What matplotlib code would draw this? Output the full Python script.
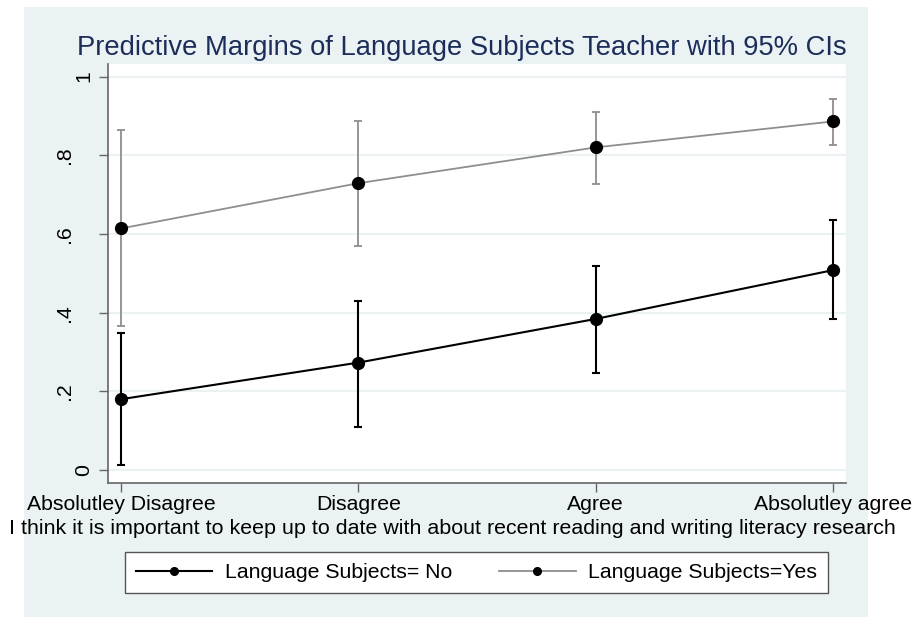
import matplotlib
matplotlib.use("Agg")
import matplotlib.pyplot as plt
from matplotlib.patches import Rectangle
from matplotlib.lines import Line2D
from matplotlib.transforms import ScaledTranslation

plt.rcParams['font.family'] = ['Liberation Sans', 'DejaVu Sans']

# data
categories = ["Absolutley Disagree", "Disagree", "Agree", "Absolutley agree"]
no_margin = [0.180, 0.273, 0.384, 0.508]
no_lower = [0.014, 0.110, 0.247, 0.383]
no_upper = [0.347, 0.430, 0.519, 0.635]
yes_margin = [0.614, 0.729, 0.820, 0.886]
yes_lower = [0.365, 0.570, 0.726, 0.825]
yes_upper = [0.865, 0.887, 0.910, 0.943]
yticks = [0, 0.2, 0.4, 0.6, 0.8, 1.0]
ytick_labels = ["0", ".2", ".4", ".6", ".8", "1"]

bg = '#EAF2F3'
W, H = 915, 617
fig = plt.figure(figsize=(W / 100, H / 100), dpi=100, facecolor='white')
# outer graph region
fig.patches.append(Rectangle((24 / W, 0), (868 - 24) / W, 1 - 7 / H,
                             transform=fig.transFigure, facecolor=bg,
                             edgecolor='none', zorder=-10))

ax = fig.add_axes([108 / W, 1 - 483 / H, (846 - 108) / W, (483 - 64) / H])
ax.set_facecolor('white')

x = [1, 2, 3, 4]
ax.errorbar(x, no_margin,
            yerr=[[m - l for m, l in zip(no_margin, no_lower)],
                  [u - m for m, u in zip(no_margin, no_upper)]],
            color='black', lw=1.5, marker='o', ms=8.5, mfc='black', mec='black',
            ecolor='black', elinewidth=1.5, capsize=3, capthick=1.5, zorder=3)
ax.errorbar(x, yes_margin,
            yerr=[[m - l for m, l in zip(yes_margin, yes_lower)],
                  [u - m for m, u in zip(yes_margin, yes_upper)]],
            color='#8E8E8E', lw=1.3, marker='o', ms=8.5, mfc='black', mec='black',
            ecolor='#8E8E8E', elinewidth=1.3, capsize=3, capthick=1.3, zorder=3)

ax.set_xlim(0.945, 4.055)
ax.set_ylim(-0.033, 1.032)
ax.set_yticks(yticks)
ax.set_yticklabels(ytick_labels, rotation=90, va='center', fontsize=15.3)
ax.set_xticks(x)
ax.set_xticklabels(categories, fontsize=15.3)
ax.grid(axis='y', color=bg, lw=1.5)
ax.set_axisbelow(True)
for s in ['top', 'right']:
    ax.spines[s].set_visible(False)
for s in ['left', 'bottom']:
    ax.spines[s].set_color('#666666')
    ax.spines[s].set_linewidth(1.2)
ax.tick_params(axis='both', length=6.5, color='#666666', width=1, pad=2)
ax.tick_params(axis='y', pad=4)
# Stata puts the decimal labels further out than the whole numbers
shift = ScaledTranslation(-0.19, 0, fig.dpi_scale_trans)
for lab in ax.get_yticklabels():
    if lab.get_text().startswith('.'):
        lab.set_transform(lab.get_transform() + shift)

fig.text(462 / W, 1 - 55 / H,
         "Predictive Margins of Language Subjects Teacher with 95% CIs",
         ha='center', va='baseline', fontsize=19.7, color='#1C2D5A')
fig.text(452 / W, 1 - 534 / H,
         "I think it is important to keep up to date with about recent reading and writing literacy research",
         ha='center', va='baseline', fontsize=15.4)

handles = [Line2D([], [], color='black', lw=1.5, marker='o', ms=5.5, mfc='black'),
           Line2D([], [], color='#8E8E8E', lw=1.3, marker='o', ms=5.5, mfc='black', mec='black')]
leg = fig.legend(handles, ["Language Subjects= No", "Language Subjects=Yes"],
                 loc='center', bbox_to_anchor=(476.5 / W, 1 - 572.5 / H), ncol=2,
                 fontsize=15.3, frameon=True, fancybox=False, handlelength=3.6,
                 handletextpad=0.6, columnspacing=2.2, borderpad=0.5, framealpha=1)
leg.get_frame().set_edgecolor('#555555')
leg.get_frame().set_linewidth(1)

fig.savefig('out.png', dpi=100, facecolor='white')
